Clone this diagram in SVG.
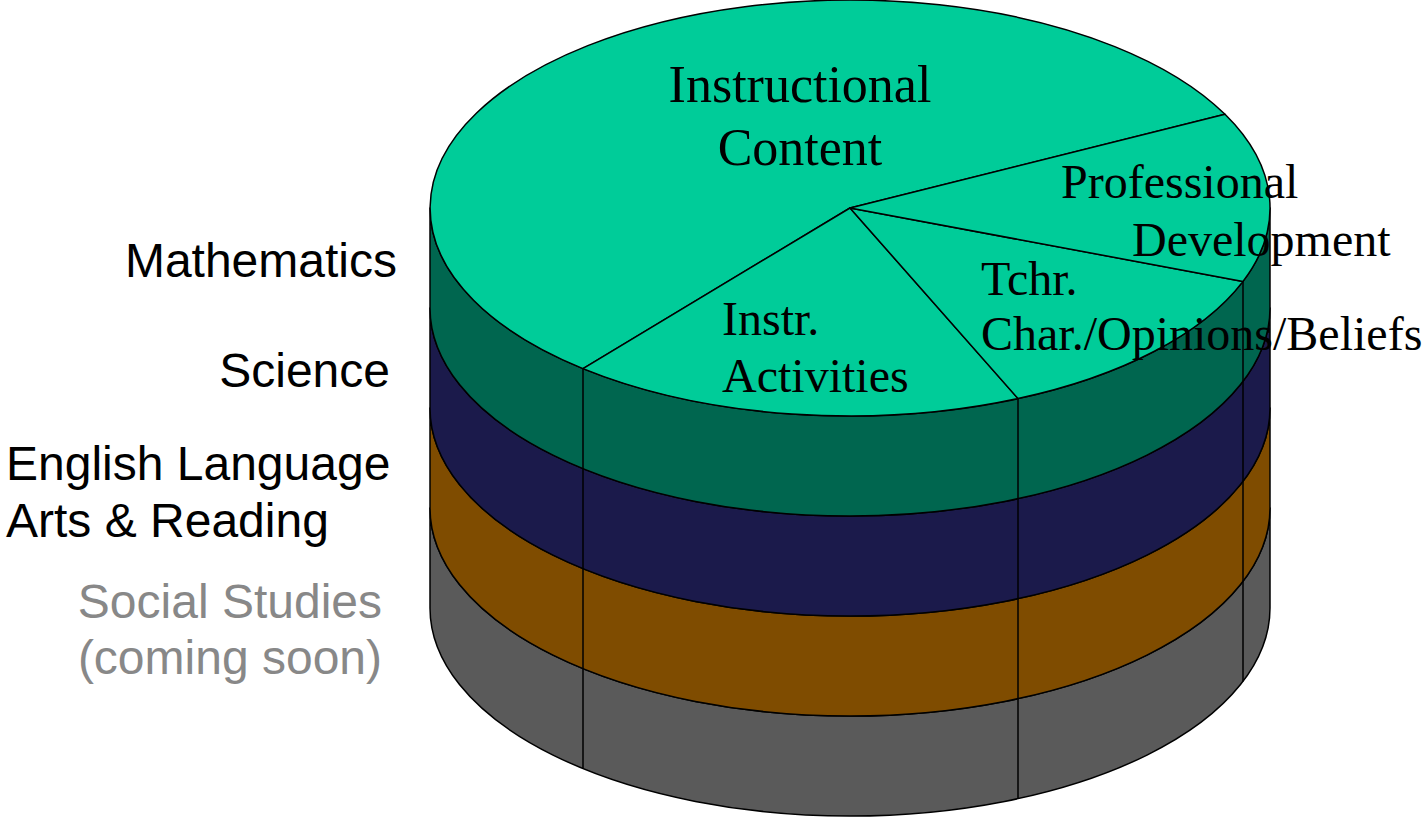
<svg xmlns="http://www.w3.org/2000/svg" width="1425" height="817" viewBox="0 0 1425 817">
<style>
.edge{stroke:#000;stroke-width:1.5;stroke-linejoin:round}
.sans{font-family:"Liberation Sans",Arial,sans-serif;font-size:48px;fill:#000}
.serif{font-family:"Liberation Serif","Times New Roman",serif;font-size:48px;fill:#000}
.div{stroke:#000;stroke-width:1.5;fill:none}
</style>
<rect width="1425" height="817" fill="#fff"/>
<g id="band-social-studies">
<path class="edge" fill="#5A5A5A" d="M430 508 L430 608 A420 208 0 0 0 1270 608 L1270 508 A420 208 0 0 1 430 508 Z"/>
</g>
<g id="band-ela">
<path class="edge" fill="#7F4C00" d="M430 408 L430 508 A420 208 0 0 0 1270 508 L1270 408 A420 208 0 0 1 430 408 Z"/>
</g>
<g id="band-science">
<path class="edge" fill="#1B1A4B" d="M430 308 L430 408 A420 208 0 0 0 1270 408 L1270 308 A420 208 0 0 1 430 308 Z"/>
</g>
<g id="band-mathematics">
<path class="edge" fill="#00664F" d="M430 208 L430 308 A420 208 0 0 0 1270 308 L1270 208 A420 208 0 0 1 430 208 Z"/>
</g>
<g id="slice-instructional-content">
<path class="edge" fill="#00CC99" d="M850 208 L1225 114.3 A420 208 0 1 0 583 368.6 Z"/>
</g>
<g id="slice-instr-activities">
<path class="edge" fill="#00CC99" d="M850 208 L583 368.6 A420 208 0 0 0 1018 398.6 Z"/>
</g>
<g id="slice-tchr">
<path class="edge" fill="#00CC99" d="M850 208 L1018 398.6 A420 208 0 0 0 1243 281.4 Z"/>
</g>
<g id="slice-prof-dev">
<path class="edge" fill="#00CC99" d="M850 208 L1243 281.4 A420 208 0 0 0 1225 114.3 Z"/>
</g>
<g id="connectors">
<line class="div" x1="583" y1="368.6" x2="583" y2="768.6"/>
<line class="div" x1="1018" y1="398.6" x2="1018" y2="798.6"/>
<line class="div" x1="1243" y1="281.4" x2="1243" y2="681.4"/>
</g>
<g id="label-instructional-content">
<text class="serif" style="font-size:52px" x="800" y="102" text-anchor="middle">Instructional</text>
<text class="serif" style="font-size:52px" x="800" y="165" text-anchor="middle">Content</text>
</g>
<g id="label-instr-activities">
<text class="serif" x="722" y="335">Instr.</text>
<text class="serif" x="722" y="392">Activities</text>
</g>
<g id="label-tchr">
<text class="serif" x="981" y="295">Tchr.</text>
<text class="serif" x="981" y="350">Char./Opinions/Beliefs</text>
</g>
<g id="label-prof-dev">
<text class="serif" x="1061" y="198">Professional</text>
<text class="serif" x="1132" y="256">Development</text>
</g>
<g id="label-mathematics"><text class="sans" x="397" y="277" text-anchor="end">Mathematics</text></g>
<g id="label-science"><text class="sans" x="390" y="387" text-anchor="end">Science</text></g>
<g id="label-ela">
<text class="sans" x="6" y="480">English Language</text>
<text class="sans" x="6" y="537">Arts &amp; Reading</text>
</g>
<g id="label-social-studies">
<text class="sans" x="382" y="618" text-anchor="end" fill="#888888" style="fill:#888888">Social Studies</text>
<text class="sans" x="382" y="674" text-anchor="end" style="fill:#888888">(coming soon)</text>
</g>
</svg>
